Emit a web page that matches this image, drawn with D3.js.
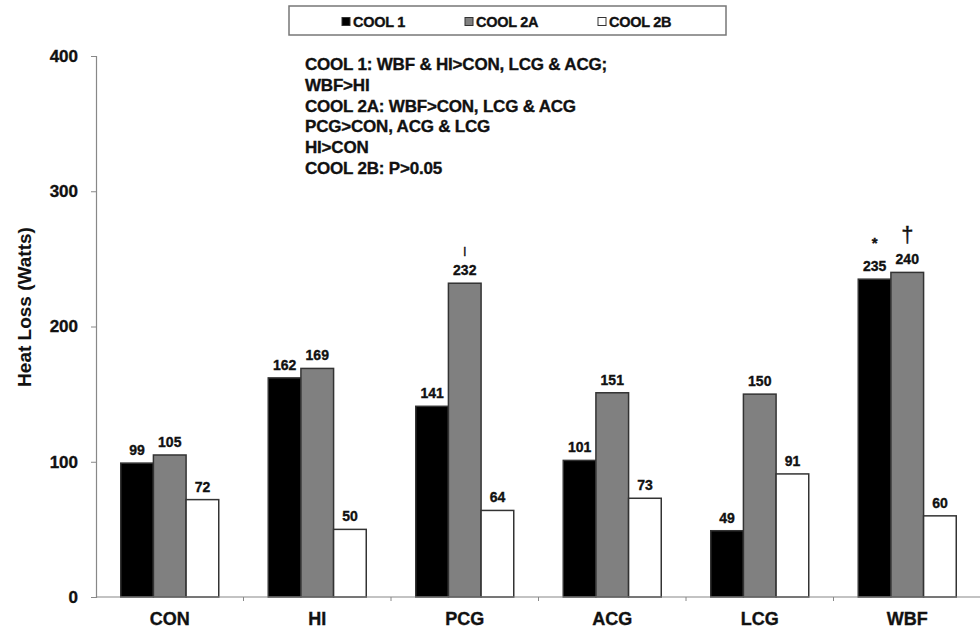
<!DOCTYPE html>
<html>
<head>
<meta charset="utf-8">
<script src="https://cdn.jsdelivr.net/npm/d3@7"></script>
<style>
  body { margin: 0; background: #fff; }
  svg text { font-family: Arial, "Liberation Sans", sans-serif; font-weight: bold; fill: #111; stroke: #111; stroke-width: 0.35px; }
</style>
</head>
<body>
<svg id="chart" width="980" height="630"></svg>
<script>
// Heat loss by cooling method and condition
const categories = ["CON", "HI", "PCG", "ACG", "LCG", "WBF"];
const seriesNames = ["COOL 1", "COOL 2A", "COOL 2B"];
const cool1 = [99, 162, 141, 101, 49, 235];
const cool2a = [105, 169, 232, 151, 150, 240];
const cool2b = [72, 50, 64, 73, 91, 60];
const yTicks = [0, 100, 200, 300, 400];
const notes = [
  "COOL 1: WBF & HI>CON, LCG & ACG;",
  "WBF>HI",
  "COOL 2A: WBF>CON, LCG & ACG",
  "PCG>CON, ACG & LCG",
  "HI>CON",
  "COOL 2B: P>0.05"
];
// significance markers: [category, series index, symbol]
const markers = [["PCG", 1, "|"], ["WBF", 0, "*"], ["WBF", 1, "†"]];

const fills = ["#000000", "#808080", "#ffffff"];
const series = [cool1, cool2a, cool2b];

const svg = d3.select("#chart");
const plotLeft = 96, plotRight = 981, plotTop = 56, plotBottom = 597;

const x = d3.scaleBand().domain(categories).range([plotLeft, plotRight]).padding(0);
const groupW = 98;
const x1 = d3.scaleBand().domain(d3.range(3))
  .range([(x.bandwidth() - groupW) / 2, (x.bandwidth() + groupW) / 2]).padding(0);
const y = d3.scaleLinear().domain([0, 400]).range([plotBottom, plotTop]);

// y axis
const yAxis = svg.append("g").attr("transform", `translate(${plotLeft},0)`)
  .call(d3.axisLeft(y).tickValues(yTicks).tickSize(5).tickPadding(13));
yAxis.select(".domain").attr("stroke", "#888").attr("stroke-width", 1.2);
yAxis.selectAll(".tick line").attr("stroke", "#888");
yAxis.selectAll(".tick text").style("font-size", "17px").attr("fill", "#111");

svg.append("text")
  .attr("transform", `translate(31,307) rotate(-90)`)
  .attr("text-anchor", "middle")
  .style("font-size", "19px")
  .style("stroke-width", "0.1px")
  .text("Heat Loss (Watts)");

// bars
const groups = svg.append("g").selectAll("g").data(categories).join("g")
  .attr("transform", d => `translate(${x(d)},0)`);

groups.selectAll("rect")
  .data((c, i) => series.map((s, k) => ({ k, v: s[i] })))
  .join("rect")
  .attr("x", d => x1(d.k))
  .attr("width", x1.bandwidth())
  .attr("y", d => y(d.v))
  .attr("height", d => y(0) - y(d.v))
  .attr("fill", d => fills[d.k])
  .attr("stroke", "#333")
  .attr("stroke-width", 1.5);

groups.selectAll("text.val")
  .data((c, i) => series.map((s, k) => ({ k, v: s[i] })))
  .join("text")
  .attr("class", "val")
  .attr("x", d => x1(d.k) + x1.bandwidth() / 2)
  .attr("y", d => y(d.v) - 8)
  .attr("text-anchor", "middle")
  .style("font-size", "14px")
  .text(d => d.v);

// significance markers
markers.forEach(([cat, k, sym]) => {
  const i = categories.indexOf(cat);
  const v = series[k][i];
  const cx = x(cat) + x1(k) + x1.bandwidth() / 2;
  const t = svg.append("text")
    .attr("x", cx)
    .attr("text-anchor", "middle")
    .text(sym);
  if (sym === "*") t.attr("y", y(v) - 31).style("font-size", "15px");
  else if (sym === "†") t.attr("y", y(v) - 30).style("font-size", "22px").style("font-weight", "normal");
  else t.attr("y", y(v) - 29).style("font-size", "9px");
});

// x axis
svg.append("line")
  .attr("x1", plotLeft).attr("x2", 980).attr("y1", plotBottom).attr("y2", plotBottom)
  .attr("stroke", "#888").attr("stroke-width", 1.2);
svg.append("g").selectAll("line").data(categories.slice(1))
  .join("line")
  .attr("x1", d => x(d)).attr("x2", d => x(d))
  .attr("y1", plotBottom).attr("y2", plotBottom + 4)
  .attr("stroke", "#888");
svg.append("g").selectAll("text").data(categories).join("text")
  .attr("x", d => x(d) + x.bandwidth() / 2)
  .attr("y", 625)
  .attr("text-anchor", "middle")
  .style("font-size", "18px")
  .text(d => d);

// annotation block
svg.append("g").selectAll("text").data(notes).join("text")
  .attr("x", 305)
  .attr("y", (d, i) => 70 + i * 20.8)
  .style("font-size", "17px")
  .style("letter-spacing", "-0.2px")
  .text(d => d);

// legend
const legend = svg.append("g");
legend.append("rect")
  .attr("x", 289).attr("y", 6).attr("width", 437).attr("height", 29)
  .attr("fill", "#fff").attr("stroke", "#777").attr("stroke-width", 1.5);
const legendX = [342, 465, 598];
seriesNames.forEach((name, k) => {
  legend.append("rect")
    .attr("x", legendX[k]).attr("y", 17.5).attr("width", 8).attr("height", 8)
    .attr("fill", fills[k]).attr("stroke", "#333").attr("stroke-width", 1);
  legend.append("text")
    .attr("x", legendX[k] + 11).attr("y", 27)
    .style("font-size", "14.5px")
    .style("letter-spacing", "-0.3px")
    .text(name);
});
</script>
</body>
</html>
